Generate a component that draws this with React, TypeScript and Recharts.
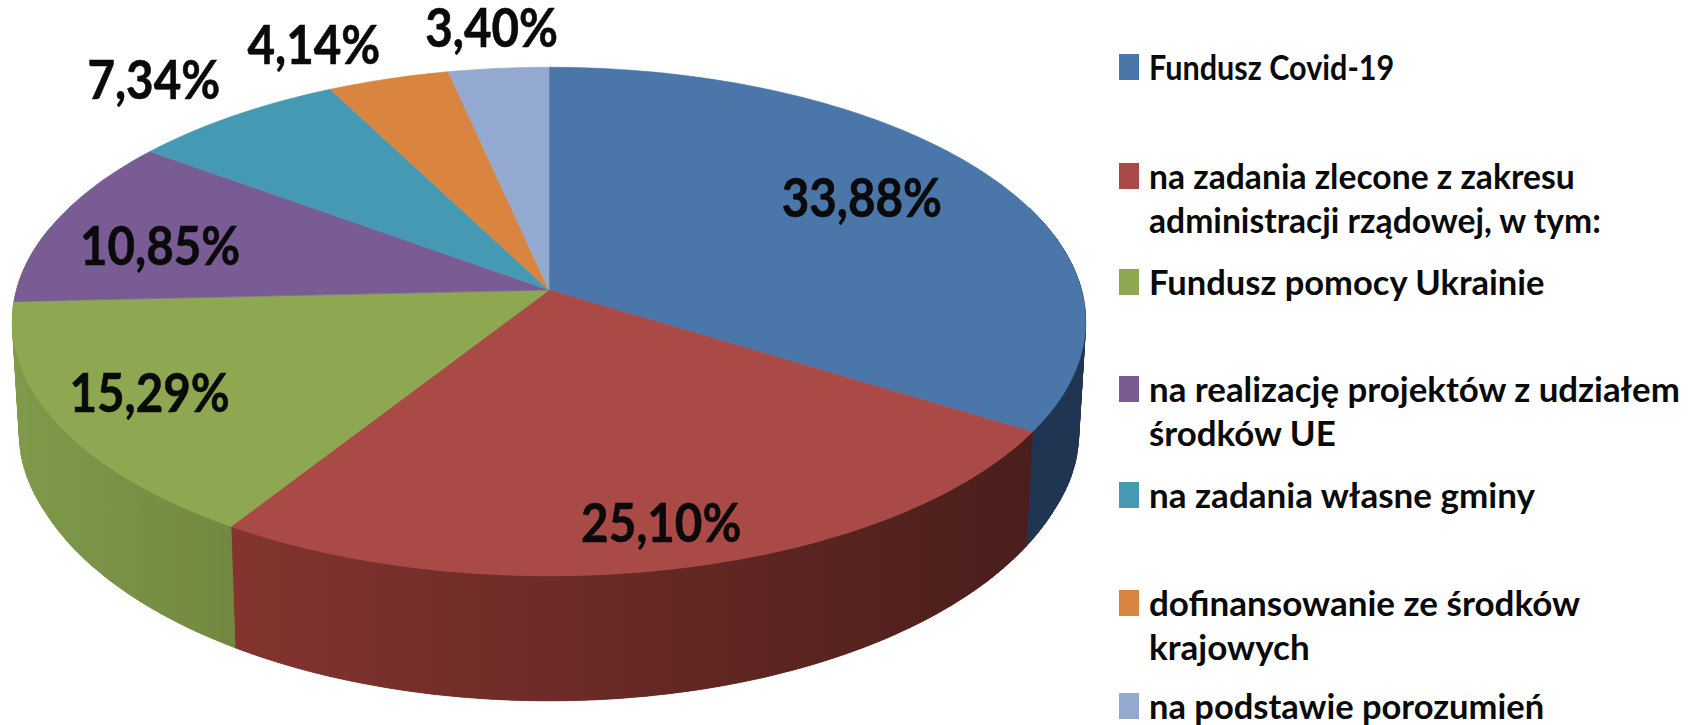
import React from 'react';
import { PieChart, Pie, Legend } from 'recharts';

const names = [
  'Fundusz Covid-19',
  'na zadania zlecone z zakresu\nadministracji rządowej, w tym:',
  'Fundusz pomocy Ukrainie',
  'na realizację projektów z udziałem\nśrodków UE',
  'na zadania własne gminy',
  'dofinansowanie ze środków\nkrajowych',
  'na podstawie porozumień',
];
const shares = [33.88, 25.1, 15.29, 10.85, 7.34, 4.14, 3.4];
const shareLabels = ['33,88%', '25,10%', '15,29%', '10,85%', '7,34%', '4,14%', '3,40%'];
const colors = ['#4a76a9', '#aa4a47', '#8ea852', '#7a5c94', '#4699b2', '#d9853f', '#94a9d0'];
const wallFrom = ['#1f3552', '#84342f', '#7f9a4a', '', '', '', ''];
const wallTo = ['#1f3552', '#4a1e1b', '#728840', '', '', '', ''];

// label placement: radial factor on the pie, then a small nudge in px
const labelRadius = [0.7, 0.85, 0.823, 0.785, 1.12, 1.18, 1.04];
const labelNudge = [[0, -12], [0, 0], [0, -8], [0, 10], [-46, -18], [-49, -2], [-5, -34]];
const legendTop = [67, 176, 281.5, 389, 494.5, 603, 706];
const legendStretch = [0.886, 0.975, 1, 1.01, 1.015, 1.015, 1];

const data = names.map((name, i) => ({ name, value: shares[i], fill: colors[i], idx: i }));

// perspective of the tilted disc
const K = 0.124;
const A = 250.4;
const B = 532.5;
const FONT = 'Lato, "Open Sans", sans-serif';

const project = (deg: number, r = 1) => {
  const a = (deg * Math.PI) / 180;
  const w = 1 + K * r * Math.cos(a);
  return [(B * r * Math.sin(a)) / w, (A * r * Math.cos(a)) / w];
};
const topPt = (cx: number, cy: number, deg: number, r = 1) => {
  const p = project(deg, r);
  return [cx + p[0], cy - p[1]];
};
const bottomPt = (cx: number, cy: number, deg: number) => {
  const p = project(deg);
  // wall gets a bit taller towards the viewer
  const t = Math.max(0, (-p[1] - 109) / 177);
  return [cx + p[0] * 0.987, cy - p[1] + 112 + 13 * t];
};
const rim = (fn: any, cx: number, cy: number, a0: number, a1: number) => {
  const pts = [];
  const n = Math.max(2, Math.ceil(Math.abs(a1 - a0)));
  for (let i = 0; i <= n; i++) pts.push(fn(cx, cy, a0 + ((a1 - a0) * i) / n));
  return pts;
};
const toPath = (pts: number[][]) =>
  'M' + pts.map((p) => p[0].toFixed(1) + ' ' + p[1].toFixed(1)).join('L') + 'Z';

const Slice3D = (props: any) => {
  const { cx, cy, startAngle, endAngle, fill, idx } = props;
  const a0 = 90 - startAngle;
  const a1 = 90 - endAngle;
  const top = [[cx, cy], ...rim(topPt, cx, cy, a0, a1)];
  const w0 = Math.max(a0, 70);
  const w1 = a1 > 260 && a1 < 285 ? 285 : Math.min(a1, 285);
  const hasWall = w1 > w0 && wallFrom[idx];
  let wall = null;
  if (hasWall) {
    const upper = rim(topPt, cx, cy, w0, w1);
    const lower = rim(bottomPt, cx, cy, w0, w1);
    const xs = upper.concat(lower).map((p) => p[0]);
    const xLeft = Math.min(...xs);
    const xRight = Math.max(...xs);
    const gradId = 'wall' + idx;
    const paint = 'url(#' + gradId + ')';
    wall = (
      <>
        <defs>
          <linearGradient id={gradId} gradientUnits="userSpaceOnUse" x1={xLeft} x2={xRight} y1={0} y2={0}>
            <stop offset="0" stopColor={wallFrom[idx]} />
            <stop offset="1" stopColor={wallTo[idx]} />
          </linearGradient>
        </defs>
        {/* quads fill the vertical side edges of the disc, the solid shape below hides their seams */}
        {upper.slice(1).map((p, i) => (
          <path key={i} d={toPath([upper[i], p, lower[i + 1], lower[i]])} fill={paint} stroke={paint} strokeWidth={0.8} />
        ))}
        <path d={toPath(upper.concat(lower.slice().reverse()))} fill={paint} />
      </>
    );
  }
  return (
    <g>
      {wall}
      <path d={toPath(top)} fill={fill} stroke={fill} strokeWidth={0.6} />
    </g>
  );
};

const renderLabel = (props: any) => {
  const { cx, cy, midAngle, index } = props;
  const p = topPt(cx, cy, 90 - midAngle, labelRadius[index]);
  const x = p[0] + labelNudge[index][0];
  const y = p[1] + labelNudge[index][1];
  return (
    <text
      key={index}
      transform={'translate(' + x + ' ' + y + ') scale(0.88 1)'}
      textAnchor="middle"
      dominantBaseline="central"
      fontFamily={FONT}
      fontWeight={700}
      fontSize={54}
      fill="#0a0a0a"
      stroke="#0a0a0a"
      strokeWidth={0.6}
    >
      {shareLabels[index]}
    </text>
  );
};

const renderLegend = () => (
  <div style={{ position: 'relative', width: 1704, height: 725, fontFamily: FONT }}>
    {names.map((name, i) => (
      <div key={i}>
        <div
          style={{
            position: 'absolute',
            left: 1119,
            top: legendTop[i] - 13,
            width: 20,
            height: 26,
            background: colors[i],
          }}
        />
        <div
          style={{
            position: 'absolute',
            left: 1149,
            top: legendTop[i] - 21.75,
            lineHeight: '43.5px',
            fontSize: 34.5,
            fontWeight: 700,
            color: '#0a0a0a',
            whiteSpace: 'pre',
            textAlign: 'left',
            transform: 'scaleX(' + legendStretch[i] + ')',
            transformOrigin: 'left center',
          }}
        >
          {name}
        </div>
      </div>
    ))}
  </div>
);

export default function App() {
  return (
    <div style={{ position: 'absolute', left: 0, top: 0, width: 1704, height: 725, background: '#fff' }}>
      <PieChart width={1704} height={725} margin={{ top: 0, right: 0, bottom: 0, left: 0 }}>
        <Pie
          data={data}
          dataKey="value"
          nameKey="name"
          cx={549}
          cy={290}
          outerRadius={250}
          startAngle={90}
          endAngle={-270}
          stroke="none"
          shape={Slice3D}
          label={renderLabel}
          labelLine={false}
          isAnimationActive={false}
        />
        <Legend content={renderLegend} wrapperStyle={{ left: 0, top: 0, width: 1704, height: 725 }} />
      </PieChart>
    </div>
  );
}
